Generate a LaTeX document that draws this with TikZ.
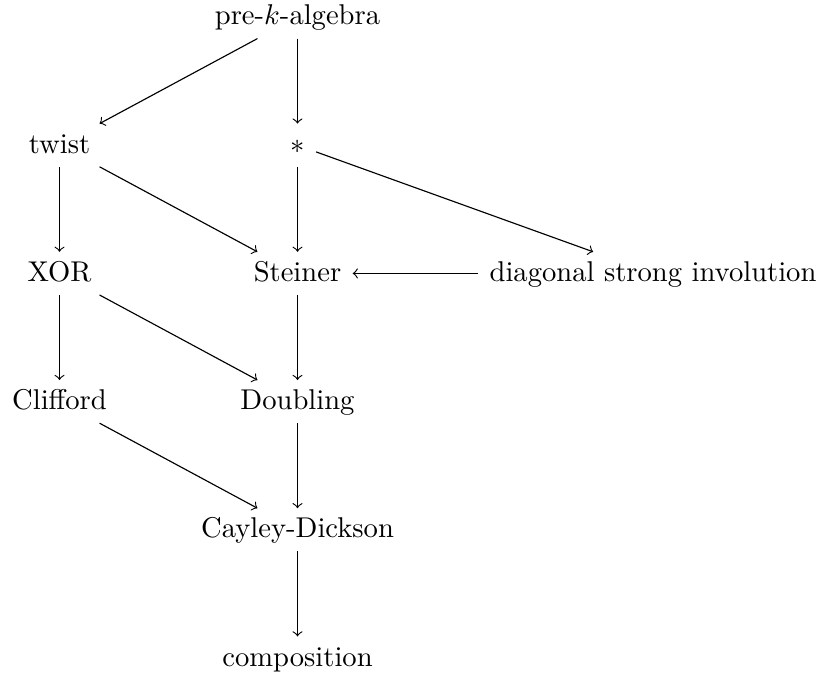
\documentclass[tikz,border=0pt]{standalone}
\begin{document}
\begin{tikzpicture}[x=0.3497pt,y=-0.3497pt,
  cell/.style={anchor=base, inner xsep=3.8pt, inner ysep=3pt, text height=7.14pt, text depth=1.55pt},
  arr/.style={->, line width=0.4pt}]
\useasboundingbox (0,0) rectangle (820,677);
\node[cell] (pre)     at (297.5,25)    {pre-$k$-algebra};
\node[cell] (twist)   at (59.5,153.2)  {twist};
\node[cell] (ast)     at (297.5,153.2) {$*$};
\node[cell] (xor)     at (59.5,281.4)  {XOR};
\node[cell] (steiner) at (297.5,281.4) {Steiner};
\node[cell] (diag)    at (653,281.4)   {diagonal strong involution};
\node[cell] (cliff)   at (59.5,409.6)  {Clifford};
\node[cell] (doub)    at (297.5,409.6) {Doubling};
\node[cell] (cd)      at (297.5,537.8) {Cayley-Dickson};
\node[cell] (comp)    at (297.5,666)   {composition};
\draw[arr] (pre) -- (twist);
\draw[arr] (pre) -- (ast);
\draw[arr] (twist) -- (xor);
\draw[arr] (twist) -- (steiner);
\draw[arr] (ast) -- (steiner);
\draw[arr] (ast) -- (diag);
\draw[arr] (diag) -- (steiner);
\draw[arr] (xor) -- (cliff);
\draw[arr] (xor) -- (doub);
\draw[arr] (steiner) -- (doub);
\draw[arr] (cliff) -- (cd);
\draw[arr] (doub) -- (cd);
\draw[arr] (cd) -- (comp);
\end{tikzpicture}
\end{document}
